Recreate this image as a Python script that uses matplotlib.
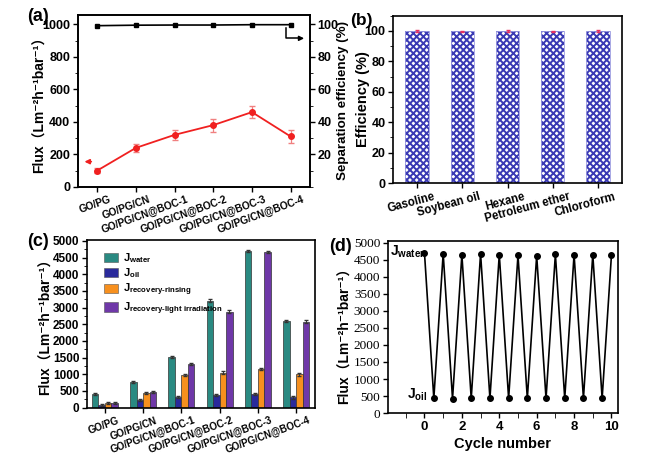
import matplotlib
matplotlib.use("Agg")
import matplotlib.pyplot as plt
import matplotlib.transforms as mtrans
from matplotlib.patches import Patch
from matplotlib.ticker import MultipleLocator
import numpy as np

plt.rcParams.update({
    "font.family": ["Liberation Sans", "Noto Sans CJK SC", "DejaVu Sans"],
    "font.weight": "bold",
    "axes.labelweight": "bold",
    "axes.linewidth": 1.2,
    "mathtext.fontset": "custom",
    "mathtext.rm": "Liberation Sans:bold",
    "mathtext.it": "Liberation Sans:bold",
    "mathtext.bf": "Liberation Sans:bold",
    "mathtext.sf": "Liberation Sans:bold",
    "hatch.linewidth": 1.4,
    "xtick.major.width": 1.0,
    "ytick.major.width": 1.0,
})

# ---- data ----
membranes = ["GO/PG", "GO/PG/CN", "GO/PG/CN@BOC-1", "GO/PG/CN@BOC-2",
             "GO/PG/CN@BOC-3", "GO/PG/CN@BOC-4"]
flux_a = [100, 240, 320, 380, 460, 310]
flux_a_err = [15, 25, 30, 40, 35, 40]
sep_eff = [99.2, 99.5, 99.6, 99.6, 99.8, 99.8]

oils = ["Gasoline", "Soybean oil", "Hexane", "Petroleum ether", "Chloroform"]
oil_eff = [99.9, 99.8, 100.0, 99.8, 99.9]
oil_eff_err = [0.4, 0.4, 0.5, 0.3, 0.4]

j_water = [420, 770, 1520, 3210, 4700, 2600]
j_oil = [90, 240, 310, 380, 400, 310]
j_rinse = [150, 450, 980, 1050, 1150, 1000]
j_light = [130, 480, 1300, 2880, 4660, 2580]
j_err = [30, 30, 30, 35, 35, 40]

cycle_x = [0, 0.5, 1, 1.5, 2, 2.5, 3, 3.5, 4, 4.5, 5, 5.5, 6, 6.5, 7, 7.5,
           8, 8.5, 9, 9.5, 10]
cycle_flux = [4700, 430, 4680, 420, 4640, 430, 4680, 430, 4650, 430, 4630,
              430, 4620, 430, 4660, 430, 4650, 430, 4650, 430, 4650]

FLUX_LABEL = "Flux（Lm⁻²h⁻¹bar⁻¹）"

fig = plt.figure(figsize=(6.54, 4.58), dpi=100)


def set_cat_labels(ax, labels, rot, size, dx_px):
    ax.set_xticks(np.arange(len(labels)))
    ax.set_xticklabels(labels, rotation=rot, ha="right", rotation_mode="anchor",
                       fontsize=size, fontweight="bold")
    off = mtrans.ScaledTranslation(dx_px / 100, 0, fig.dpi_scale_trans)
    for lab in ax.get_xticklabels():
        lab.set_transform(lab.get_transform() + off)


def style_ticks(ax, size=9):
    ax.tick_params(axis="both", direction="out", length=3.5, pad=2)
    ax.tick_params(axis="y", labelsize=size)
    ax.tick_params(which="minor", direction="out", length=2)
    for lab in ax.get_yticklabels():
        lab.set_fontweight("bold")


# ---- (a) ----
ax_a = fig.add_axes([0.119, 0.592, 0.355, 0.375])
xa = np.arange(len(membranes))
ax_a.errorbar(xa, flux_a, yerr=flux_a_err, color="#f02020", lw=1.3,
              marker="o", ms=4, ecolor="#f08080", elinewidth=0.9, capsize=2.5)
ax_a.set_xlim(-0.5, 5.5)
ax_a.set_ylim(0, 1057)
ax_a.set_yticks([0, 200, 400, 600, 800, 1000])
ax_a.yaxis.set_minor_locator(MultipleLocator(100))
style_ticks(ax_a)
set_cat_labels(ax_a, membranes, 20, 7.3, 12)
ax_a.set_ylabel(FLUX_LABEL, fontsize=10)
ax_a.yaxis.set_label_coords(-0.134, 0.5)
ax_a.annotate("", xy=(-0.4, 155), xytext=(-0.08, 155),
              arrowprops=dict(arrowstyle="-|>", color="#f02020", lw=1.2,
                              mutation_scale=7))
ax_a.plot([4.87, 4.87, 5.2], [975, 914, 914], color="black", lw=1.1)
ax_a.annotate("", xy=(5.42, 914), xytext=(5.15, 914),
              arrowprops=dict(arrowstyle="-|>", color="black", lw=1.1,
                              mutation_scale=7))
ax_a2 = ax_a.twinx()
ax_a2.plot(xa, sep_eff, color="black", lw=1.2, marker="s", ms=3.5)
ax_a2.set_ylim(0, 105.7)
ax_a2.set_yticks([20, 40, 60, 80, 100])
ax_a2.yaxis.set_minor_locator(MultipleLocator(10))
style_ticks(ax_a2)
ax_a2.set_ylabel("Separation efficiency (%)", fontsize=9.6)
ax_a2.yaxis.set_label_coords(1.117, 0.5)
fig.text(0.041, 0.965, "(a)", fontsize=13, fontweight="bold", va="center")

# ---- (b) ----
ax_b = fig.add_axes([0.601, 0.600, 0.350, 0.366])
xb = np.arange(len(oils))
ax_b.bar(xb, oil_eff, width=0.51, color="white", edgecolor="#3a3ab4",
         hatch="xxxxx", lw=0)
ax_b.bar(xb, oil_eff, width=0.51, color="none", edgecolor="#9a9ae0", lw=0.6)
ax_b.errorbar(xb, oil_eff, yerr=oil_eff_err, fmt="none", ecolor="#e83060",
              elinewidth=1.0, capsize=1.5)
ax_b.set_xlim(-0.53, 4.53)
ax_b.set_ylim(0, 110)
ax_b.set_yticks([0, 20, 40, 60, 80, 100])
ax_b.yaxis.set_minor_locator(MultipleLocator(10))
style_ticks(ax_b)
set_cat_labels(ax_b, oils, 15, 8.3, 16)
ax_b.set_ylabel("Efficiency (%)", fontsize=10.5)
ax_b.yaxis.set_label_coords(-0.100, 0.5)
fig.text(0.536, 0.955, "(b)", fontsize=12.5, fontweight="bold", va="center")

# ---- (c) ----
ax_c = fig.add_axes([0.133, 0.110, 0.349, 0.366])
xc = np.arange(len(membranes))
bw = 0.17
series = [
    (j_water, "#2a8a82", r"$\mathbf{J_{water}}$"),
    (j_oil, "#2a2a9c", r"$\mathbf{J_{oil}}$"),
    (j_rinse, "#f7901e", r"$\mathbf{J_{recovery\text{-}rinsing}}$"),
    (j_light, "#6f38a8", r"$\mathbf{J_{recovery\text{-}light\ irradiation}}$"),
]
handles = []
for i, (vals, col, lab) in enumerate(series):
    ax_c.bar(xc + (i - 1.5) * bw, vals, width=bw, color=col, edgecolor="#333333",
             lw=0.5, yerr=j_err, error_kw=dict(elinewidth=0.7, capsize=1.5,
                                               ecolor="#333333"))
    handles.append(Patch(facecolor=col, edgecolor="#555555", lw=0.4, label=lab))
ax_c.set_xlim(-0.47, 5.5)
ax_c.set_ylim(0, 5030)
ax_c.set_yticks(np.arange(0, 5001, 500))
ax_c.yaxis.set_minor_locator(MultipleLocator(250))
style_ticks(ax_c, 8.5)
set_cat_labels(ax_c, membranes, 20, 7.1, 12)
ax_c.set_ylabel(FLUX_LABEL, fontsize=10)
ax_c.yaxis.set_label_coords(-0.149, 0.5)
ax_c.legend(handles=handles, loc="upper left", bbox_to_anchor=(0.04, 0.98),
            frameon=False, fontsize=8, handlelength=1.3, handleheight=0.9,
            handletextpad=0.4, labelspacing=0.15, borderpad=0.2)
fig.text(0.041, 0.472, "(c)", fontsize=13, fontweight="bold", va="center")

# ---- (d) ----
ax_d = fig.add_axes([0.593, 0.098, 0.352, 0.376])
ax_d.plot(cycle_x, cycle_flux, color="black", lw=1.2, marker="o", ms=4)
ax_d.set_xlim(-1.96, 10.35)
ax_d.set_ylim(0, 5050)
ax_d.set_yticks(np.arange(0, 5001, 500))
ax_d.set_xticks([0, 2, 4, 6, 8, 10])
ax_d.xaxis.set_minor_locator(MultipleLocator(1))
ax_d.tick_params(axis="both", direction="out", length=3.5, labelsize=9.5, pad=2)
ax_d.tick_params(which="minor", direction="out", length=3.5)
for lab in ax_d.get_yticklabels():
    lab.set_fontfamily("Liberation Serif")
    lab.set_fontweight("normal")
for lab in ax_d.get_xticklabels():
    lab.set_fontweight("bold")
ax_d.set_xlabel("Cycle number", fontsize=10.5, labelpad=3)
ax_d.set_ylabel(FLUX_LABEL, fontsize=10)
ax_d.yaxis.set_label_coords(-0.157, 0.47)
ax_d.text(-1.85, 4730, r"$\mathbf{J_{water}}$", fontsize=10, va="center",
          ha="left")
ax_d.text(-0.95, 530, r"$\mathbf{J_{oil}}$", fontsize=10, va="center", ha="left")
fig.text(0.503, 0.462, "(d)", fontsize=13, fontweight="bold", va="center")

fig.savefig("out.png", dpi=100)
